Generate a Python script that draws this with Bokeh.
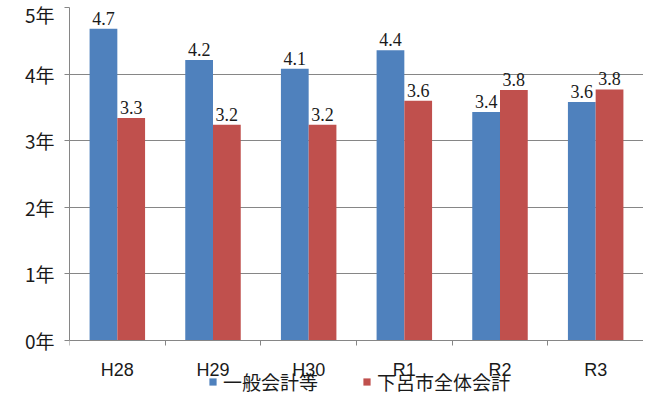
from bokeh.plotting import figure
from bokeh.models import ColumnDataSource, FixedTicker, Legend, LegendItem, LabelSet, Range1d
from bokeh.embed import file_html
from bokeh.resources import INLINE

categories = ["H28", "H29", "H30", "R1", "R2", "R3"]
general = [4.68, 4.21, 4.08, 4.36, 3.43, 3.58]
whole_city = [3.34, 3.24, 3.24, 3.6, 3.76, 3.77]
series_names = ["一般会計等", "下呂市全体会計"]
y_ticks = [0, 1, 2, 3, 4, 5]
y_tick_labels = ["0年", "1年", "2年", "3年", "4年", "5年"]

FONT = "Noto Sans CJK JP"
LATIN = "Liberation Sans"
BLUE = "#4F81BD"
RED = "#C0504D"
GRID = "#868686"
TXT = "#1a1a1a"
BW = 0.29
LEFT = 69

idx = list(range(len(categories)))
src_b = ColumnDataSource(dict(x=[i - BW / 2 for i in idx], top=general,
                              lab=[f"{v:.1f}" for v in general]))
src_r = ColumnDataSource(dict(x=[i + BW / 2 for i in idx], top=whole_city,
                              lab=[f"{v:.1f}" for v in whole_city]))

# the frame reaches below 0 so that the category labels and the legend fit inside it
p = figure(width=643, height=398, output_backend="svg", toolbar_location=None,
           x_range=Range1d(-0.5, len(categories) - 0.5), y_range=Range1d(-0.87, 5),
           min_border_left=LEFT, min_border_top=7, min_border_right=0, min_border_bottom=0)
p.outline_line_color = None

rb = p.vbar(x="x", top="top", bottom=0, width=BW, source=src_b, fill_color=BLUE, line_color=None)
rr = p.vbar(x="x", top="top", bottom=0, width=BW, source=src_r, fill_color=RED, line_color=None)

for s in (src_b, src_r):
    p.add_layout(LabelSet(x="x", y="top", text="lab", source=s, text_align="center",
                          text_baseline="bottom", y_offset=4, text_font=FONT,
                          text_font_size="18px", text_color=TXT))

# x axis drawn at y = 0
p.xaxis.fixed_location = 0
p.xaxis.ticker = FixedTicker(ticks=idx, minor_ticks=[i - 0.5 for i in idx] + [len(idx) - 0.5])
p.xaxis.major_label_overrides = {i: c for i, c in zip(idx, categories)}
p.xaxis.major_tick_line_color = None
p.xaxis.major_tick_in = 0
p.xaxis.major_tick_out = 5
p.xaxis.minor_tick_in = 0
p.xaxis.minor_tick_out = 5
p.xaxis.minor_tick_line_color = GRID
p.xaxis.axis_line_color = GRID
p.xaxis.major_label_text_font = LATIN
p.xaxis.major_label_text_font_size = "18px"
p.xaxis.major_label_text_color = TXT
p.xaxis.major_label_standoff = 14
p.xgrid.grid_line_color = None

# y axis
p.yaxis.bounds = (0, 5)
p.yaxis.ticker = FixedTicker(ticks=y_ticks)
p.yaxis.major_label_overrides = {t: l for t, l in zip(y_ticks, y_tick_labels)}
p.yaxis.minor_tick_line_color = None
p.yaxis.major_tick_in = 0
p.yaxis.major_tick_out = 5
p.yaxis.major_tick_line_color = GRID
p.yaxis.axis_line_color = GRID
p.yaxis.major_label_text_font = FONT
p.yaxis.major_label_text_font_size = "19px"
p.yaxis.major_label_text_color = TXT
p.yaxis.major_label_standoff = 10
p.ygrid.grid_line_color = GRID

legend = Legend(items=[LegendItem(label=series_names[0], renderers=[rb]),
                       LegendItem(label=series_names[1], renderers=[rr])],
                orientation="horizontal", location=(139, 3),
                label_text_font=FONT, label_text_font_size="19px", label_text_color=TXT,
                glyph_width=9, glyph_height=9, spacing=44, padding=1, margin=0,
                border_line_color=None, background_fill_alpha=0,
                label_standoff=6, label_height=20)
p.add_layout(legend, "center")

open("out.html", "w").write(file_html(p, INLINE))
